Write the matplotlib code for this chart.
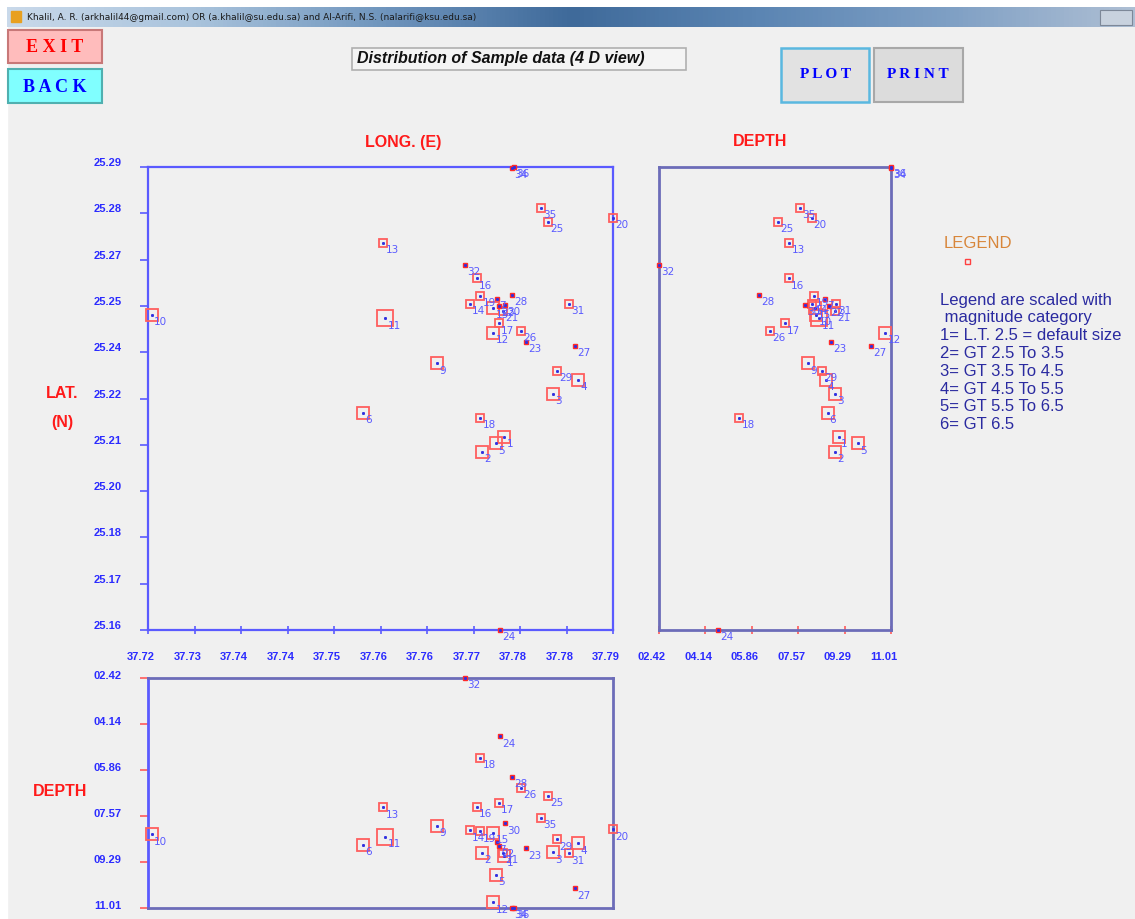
import matplotlib
matplotlib.use('Agg')
import matplotlib.pyplot as plt
import matplotlib.transforms as mtransforms
from matplotlib.patches import Rectangle
import numpy as np

W, H = 1135, 919

# event data
ids = [1, 2, 3, 4, 5, 6, 7, 9, 10, 11, 12, 13, 14, 15, 16, 17, 18, 19,
       20, 21, 22, 23, 24, 25, 26, 27, 28, 29, 30, 31, 32, 34, 35, 36]
lon = [37.7736, 37.7703, 37.7807, 37.7844, 37.7724, 37.7529, 37.7725, 37.7638,
       37.7221, 37.7562, 37.7720, 37.7559, 37.7686, 37.7720, 37.7696, 37.7728,
       37.7701, 37.7701, 37.7895, 37.7734, 37.7728, 37.7768, 37.7730, 37.7800,
       37.7761, 37.7839, 37.7747, 37.7813, 37.7737, 37.7831, 37.7679, 37.7747,
       37.7790, 37.7750]
lat = [25.2119, 25.2073, 25.2249, 25.2291, 25.2100, 25.2191, 25.2536, 25.2342,
       25.2488, 25.2478, 25.2433, 25.2705, 25.2521, 25.2509, 25.2599, 25.2463,
       25.2176, 25.2545, 25.2781, 25.2500, 25.2515, 25.2406, 25.1535, 25.2769,
       25.2439, 25.2394, 25.2548, 25.2318, 25.2518, 25.2521, 25.2639, 25.2932,
       25.2811, 25.2935]
depth = [9.07, 8.95, 8.93, 8.59, 9.78, 8.66, 8.55, 7.94, 8.25, 8.36, 10.80,
         7.25, 8.10, 8.21, 7.22, 7.09, 5.40, 8.15, 8.07, 8.95, 8.70, 8.78,
         4.60, 6.83, 6.53, 10.28, 6.12, 8.45, 7.84, 8.96, 2.42, 11.01, 7.65,
         11.00]
mag_cat = [3, 3, 3, 3, 3, 3, 1, 3, 3, 4, 3, 2, 2, 3, 2, 2, 2, 2,
           2, 2, 1, 1, 1, 2, 2, 1, 1, 2, 1, 2, 1, 1, 2, 1]

lon_ticklabels = ['37.72', '37.73', '37.74', '37.74', '37.75', '37.76',
                  '37.76', '37.77', '37.78', '37.78', '37.79']
lat_ticklabels = ['25.16', '25.17', '25.18', '25.20', '25.21', '25.22',
                  '25.24', '25.25', '25.27', '25.28', '25.29']
depth_ticklabels = ['02.42', '04.14', '05.86', '07.57', '09.29', '11.01']

legend_lines = ['Legend are scaled with', ' magnitude category',
                '1= L.T. 2.5 = default size', '2= GT 2.5 To 3.5',
                '3= GT 3.5 To 4.5', '4= GT 4.5 To 5.5', '5= GT 5.5 To 6.5',
                '6= GT 6.5']

lon_lim = (37.7215, 37.7895)
lat_lim = (25.1535, 25.2935)
depth_lim = (2.42, 11.01)

BG = '#f0f0f0'
TICK_BLUE = '#2b2bff'
LABEL_BLUE = '#5a5aff'
RED = '#ff2a2a'
sq_size = {2: 5.8, 3: 8.0, 4: 11.5}

fig = plt.figure(figsize=(W / 100, H / 100), dpi=100)
fig.patch.set_facecolor(BG)


def rect(x0, y0, x1, y1):
    return [x0 / W, 1 - y1 / H, (x1 - x0) / W, (y1 - y0) / H]


def shift(ax, dx, dy, axis):
    off = mtransforms.ScaledTranslation(dx / 100, dy / 100, fig.dpi_scale_trans)
    labels = ax.get_xticklabels() if axis == 'x' else ax.get_yticklabels()
    for lab in labels:
        lab.set_transform(lab.get_transform() + off)


def draw_events(ax, xs, ys):
    for x, y, c, i in zip(xs, ys, mag_cat, ids):
        if c == 1:
            ax.plot(x, y, 's', ms=2.2, color=RED, mec=RED, clip_on=False, zorder=3)
        else:
            ax.plot(x, y, 's', ms=sq_size[c], mfc='none', mec='#ff5e5e', mew=1.3,
                    clip_on=False, zorder=3)
        ax.plot(x, y, 's', ms=1.1, color='#3030e0', clip_on=False, zorder=4)
        ax.annotate(str(i), (x, y), xytext=(1.5, -7.5), textcoords='offset points',
                    color=LABEL_BLUE, fontsize=7.5, family='DejaVu Sans',
                    annotation_clip=False, zorder=5)


def style_frame(ax, color, lw):
    ax.set_facecolor(BG)
    for s in ax.spines.values():
        s.set_color(color)
        s.set_linewidth(lw)


# background / window chrome
bg = fig.add_axes([0, 0, 1, 1], zorder=0)
bg.set_xlim(0, W)
bg.set_ylim(H, 0)
bg.axis('off')
bg.add_patch(Rectangle((0, 0), W, 7, color='white', zorder=0))
bg.add_patch(Rectangle((0, 0), 7, H, color='white', zorder=0))
grad = np.linspace(0, 1, 256)[None, :]
bar_cmap = matplotlib.colors.LinearSegmentedColormap.from_list(
    'bar', ['#c9d9ea', '#a9c3dc', '#6f95bd', '#3f6a9a', '#5b85b3', '#7e9fc4', '#aebfd4'])
bg.imshow(grad, extent=(7, W, 27, 7), aspect='auto', cmap=bar_cmap, zorder=1)
bg.add_patch(Rectangle((11, 11), 10, 11, color='#e8a020', zorder=2))
bg.text(27, 17, 'Khalil, A. R. (arkhalil44@gmail.com) OR (a.khalil@su.edu.sa) and Al-Arifi, N.S. (nalarifi@ksu.edu.sa)',
        fontsize=6.5, color='#1a1a1a', va='center', ha='left', zorder=3)
bg.add_patch(Rectangle((1100, 10), 32, 15, fc='#c8d2de', ec='#7d8898', lw=0.8, zorder=2))

# buttons
bg.add_patch(Rectangle((8, 30), 94, 33, fc='#ffbcbc', ec='#c87878', lw=1.5, zorder=2))
bg.text(55, 47, 'E X I T', color='#ff0000', fontsize=13, fontweight='bold',
        family='Liberation Serif', ha='center', va='center', zorder=3)
bg.add_patch(Rectangle((8, 69), 94, 34, fc='#80ffff', ec='#50b0b0', lw=1.5, zorder=2))
bg.text(55, 87, 'B A C K', color='#0000ff', fontsize=13, fontweight='bold',
        family='Liberation Serif', ha='center', va='center', zorder=3)
bg.add_patch(Rectangle((781, 48), 88, 54, fc='#e2e2e2', ec='#5ab8e0', lw=1.8, zorder=2))
bg.text(825, 75, 'P L O T', color='#0000ff', fontsize=11, fontweight='bold',
        family='Liberation Serif', ha='center', va='center', zorder=3)
bg.add_patch(Rectangle((874, 48), 89, 54, fc='#dcdcdc', ec='#a8a8a8', lw=1.5, zorder=2))
bg.text(918, 75, 'P R I N T', color='#0000ff', fontsize=11, fontweight='bold',
        family='Liberation Serif', ha='center', va='center', zorder=3)

# title box
bg.add_patch(Rectangle((352, 48), 334, 22, fc='#f4f4f4', ec='#b0b0b0', lw=1.2, zorder=2))
bg.text(357, 59, 'Distribution of Sample data (4 D view)', fontsize=11.5,
        fontweight='bold', fontstyle='italic', family='Liberation Sans',
        color='#111111', ha='left', va='center', zorder=3)

# panel labels
bg.text(403, 142, 'LONG. (E)', color='#ff1a1a', fontsize=11.5, fontweight='bold',
        family='Liberation Sans', ha='center', va='center')
bg.text(760, 142, 'DEPTH', color='#ff1a1a', fontsize=11.5, fontweight='bold',
        family='Liberation Sans', ha='center', va='center')
bg.text(62, 393, 'LAT.', color='#ff1a1a', fontsize=11.5, fontweight='bold',
        family='Liberation Sans', ha='center', va='center')
bg.text(62, 422, '(N)', color='#ff1a1a', fontsize=11.5, fontweight='bold',
        family='Liberation Sans', ha='center', va='center')
bg.text(60, 791, 'DEPTH', color='#ff1a1a', fontsize=11.5, fontweight='bold',
        family='Liberation Sans', ha='center', va='center')

# legend block
bg.text(978, 243, 'LEGEND', color='#d8863a', fontsize=12, family='Liberation Sans',
        ha='center', va='center')
bg.add_patch(Rectangle((965, 259), 5, 5, fc='none', ec='#ff4040', lw=1.0, zorder=2))
for k, line in enumerate(legend_lines):
    bg.text(940, 300 + k * 17.8, line, color='#2a2aa0', fontsize=12,
            family='Liberation Sans', ha='left', va='center')

# main panel: longitude vs latitude
ax1 = fig.add_axes(rect(148, 167, 613, 630), zorder=1)
style_frame(ax1, '#5a5aff', 1.6)
draw_events(ax1, lon, lat)
ax1.set_xlim(*lon_lim)
ax1.set_ylim(*lat_lim)
ax1.set_xticks(np.linspace(lon_lim[0], lon_lim[1], len(lon_ticklabels)))
ax1.set_xticklabels(lon_ticklabels)
ax1.set_yticks(np.linspace(lat_lim[0], lat_lim[1], len(lat_ticklabels)))
ax1.set_yticklabels(lat_ticklabels)
ax1.tick_params(axis='x', colors='#5a5aff', direction='inout', length=6, width=1.2,
                pad=13, labelcolor=TICK_BLUE, labelsize=8)
ax1.tick_params(axis='y', colors='#5a5aff', direction='out', length=6, width=1.2,
                pad=13, labelcolor=TICK_BLUE, labelsize=8)
for lab in ax1.get_xticklabels() + ax1.get_yticklabels():
    lab.set_fontweight('bold')
    lab.set_family('Liberation Sans')
shift(ax1, -7, 0, 'x')
shift(ax1, 0, 5, 'y')

# right panel: depth vs latitude
ax2 = fig.add_axes(rect(659, 167, 891, 630), zorder=1)
style_frame(ax2, '#6c6cb8', 2.0)
draw_events(ax2, depth, lat)
ax2.set_xlim(*depth_lim)
ax2.set_ylim(*lat_lim)
ax2.set_xticks(np.linspace(depth_lim[0], depth_lim[1], len(depth_ticklabels)))
ax2.set_xticklabels(depth_ticklabels)
ax2.set_yticks([])
ax2.tick_params(axis='x', colors='#ff5a5a', direction='inout', length=6, width=1.2,
                pad=13, labelcolor=TICK_BLUE, labelsize=8)
for lab in ax2.get_xticklabels():
    lab.set_fontweight('bold')
    lab.set_family('Liberation Sans')
shift(ax2, -7, 0, 'x')

# bottom panel: longitude vs depth
ax3 = fig.add_axes(rect(148, 678, 613, 908), zorder=1)
style_frame(ax3, '#6c6cb8', 2.0)
ax3.spines['left'].set_color('#5a5aff')
draw_events(ax3, lon, depth)
ax3.set_xlim(*lon_lim)
ax3.set_ylim(depth_lim[1], depth_lim[0])
ax3.set_xticks([])
ax3.set_yticks(np.linspace(depth_lim[0], depth_lim[1], len(depth_ticklabels)))
ax3.set_yticklabels(depth_ticklabels)
ax3.tick_params(axis='y', colors='#ff5a5a', direction='out', length=6, width=1.2,
                pad=13, labelcolor=TICK_BLUE, labelsize=8)
for lab in ax3.get_yticklabels():
    lab.set_fontweight('bold')
    lab.set_family('Liberation Sans')
shift(ax3, 0, 3, 'y')

fig.savefig('out.png', dpi=100, facecolor=fig.get_facecolor())
